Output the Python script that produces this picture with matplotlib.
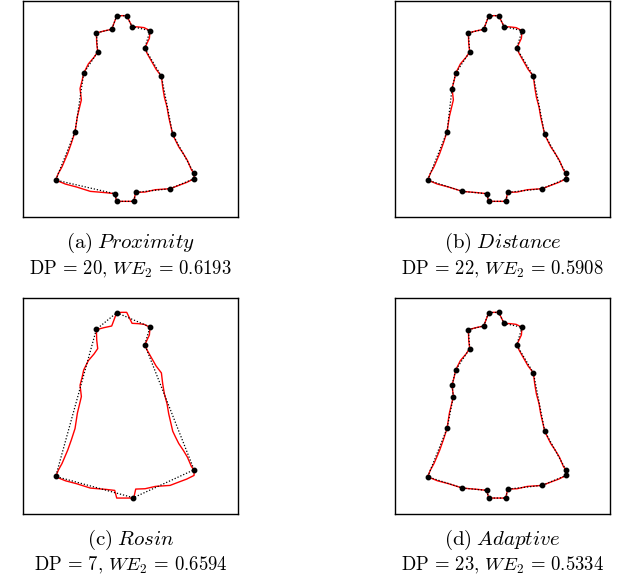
import matplotlib.pyplot as plt

plt.rcParams['mathtext.fontset'] = 'cm'

# Contorno de la campana (coordenadas de imagen, y hacia abajo), sentido horario
contorno_x = [290, 305, 320, 336, 355, 372, 390, 388, 374, 382, 395, 408, 424,
              428, 433, 441, 446, 458, 466, 476, 490, 502, 514, 522, 522, 500,
              476, 450, 406, 375, 347, 341, 290, 284, 258, 211, 170, 136, 107,
              115, 126, 143, 154, 165, 172, 184, 180, 186, 191, 205, 222, 233,
              230, 229, 252, 275]
contorno_y = [48, 47, 47, 80, 81, 83, 92, 115, 145, 162, 185, 208, 229,
              262, 292, 322, 352, 404, 421, 441, 462, 482, 510, 521, 537, 548,
              557, 567, 570, 577, 578, 605, 605, 582, 579, 575, 562, 553, 541,
              521, 501, 461, 430, 396, 350, 300, 266, 243, 220, 192, 172, 156,
              130, 99, 93, 88]

# Puntos dominantes de cada método
prox_x = [290, 320, 336, 390, 374, 424, 458, 522, 522, 450, 347, 341, 290, 284,
          107, 165, 191, 233, 229, 275]
prox_y = [48, 47, 80, 92, 145, 229, 404, 521, 537, 567, 578, 605, 605, 582,
          541, 396, 220, 156, 99, 88]

dist_x = [290, 320, 336, 390, 374, 424, 458, 522, 522, 450, 347, 341, 290, 284,
          211, 107, 165, 180, 191, 233, 229, 275]
dist_y = [48, 47, 80, 92, 145, 229, 404, 521, 537, 567, 578, 605, 605, 582,
          575, 541, 396, 266, 220, 156, 99, 88]

rosin_x = [290, 390, 374, 522, 340, 107, 229]
rosin_y = [48, 91, 144, 520, 604, 540, 98]

adapt_x = [290, 320, 336, 390, 374, 424, 458, 522, 522, 450, 347, 341, 290, 284,
           211, 107, 165, 184, 180, 191, 233, 229, 275]
adapt_y = [48, 47, 80, 92, 145, 229, 404, 521, 537, 567, 578, 605, 605, 582,
           575, 541, 396, 300, 266, 220, 156, 99, 88]

letras = ['a', 'b', 'c', 'd']
metodos = ['Proximity', 'Distance', 'Rosin', 'Adaptive']
num_dp = [20, 22, 7, 23]
we2 = ['0.6193', '0.5908', '0.6594', '0.5334']
puntos = [(prox_x, prox_y), (dist_x, dist_y), (rosin_x, rosin_y), (adapt_x, adapt_y)]

W, H = 629, 581
fig = plt.figure(figsize=(W / 100, H / 100), dpi=100)

# cajas de cada panel en píxeles: (izquierda, arriba)
cajas = [(22.7, 1.0), (394.7, 1.0), (22.7, 297.7), (394.7, 297.7)]
ancho, alto = 215.7, 216.0

for i in range(4):
    izq, arr = cajas[i]
    ax = fig.add_axes([izq / W, (H - arr - alto) / H, ancho / W, alto / H])
    ax.plot(contorno_x + contorno_x[:1], contorno_y + contorno_y[:1],
            color='red', lw=1.0, zorder=2)
    px, py = puntos[i]
    ax.plot(px + px[:1], py + py[:1], color='black', lw=0.9,
            linestyle=(0, (1, 1.5)), zorder=3)
    ax.plot(px, py, 'o', color='black', ms=3.2, zorder=4)
    ax.set_xlim(8, 655)
    ax.set_ylim(652, 3)
    ax.set_xticks([])
    ax.set_yticks([])
    for s in ax.spines.values():
        s.set_linewidth(1.0)

    cx = (izq + ancho / 2) / W
    fig.text(cx, (H - arr - alto - 26) / H,
             r'$\mathrm{(%s)}\;\mathit{%s}$' % (letras[i], metodos[i]),
             ha='center', va='center', fontsize=15)
    fig.text(cx, (H - arr - alto - 52) / H,
             r'$\mathrm{DP}\,=\,%d,\,WE_2\,=\,%s$' % (num_dp[i], we2[i]),
             ha='center', va='center', fontsize=13.5)

fig.savefig('out.png', dpi=100)
